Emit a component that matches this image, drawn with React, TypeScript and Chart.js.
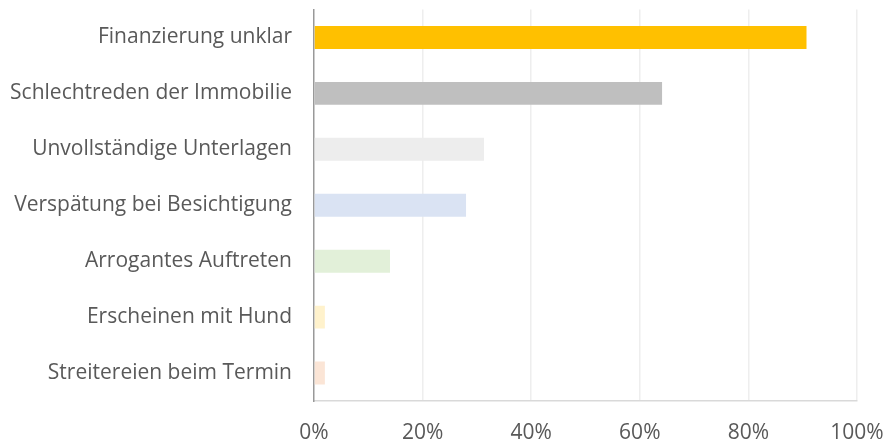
import React, { useEffect, useRef } from "react";
import { Chart, registerables } from "chart.js";

Chart.register(...registerables);

const categories = [
  "Finanzierung unklar",
  "Schlechtreden der Immobilie",
  "Unvollständige Unterlagen",
  "Verspätung bei Besichtigung",
  "Arrogantes Auftreten",
  "Erscheinen mit Hund",
  "Streitereien beim Termin",
];
const values = [90.7, 64.1, 31.3, 28.0, 14.0, 2.0, 2.0];
const barColors = ["#FFC000", "#BFBFBF", "#EDEDED", "#DAE3F3", "#E2F0D9", "#FFF2CC", "#FBE5D6"];
const xTicks = [0, 20, 40, 60, 80, 100];

export default function App() {
  const ref = useRef<HTMLCanvasElement | null>(null);
  useEffect(() => {
    if (!ref.current) return;
    const font = { family: "'Open Sans', 'Noto Sans', sans-serif", size: 21 };
    const chart = new Chart(ref.current, {
      type: "bar",
      data: {
        labels: categories,
        datasets: [
          {
            data: values,
            backgroundColor: barColors,
            borderWidth: 0,
            categoryPercentage: 1,
            barPercentage: 0.41,
          },
        ],
      },
      options: {
        indexAxis: "y",
        animation: false,
        responsive: false,
        maintainAspectRatio: false,
        layout: { padding: { top: 9.5, right: 28, bottom: 0, left: 0 } },
        plugins: { legend: { display: false }, tooltip: { enabled: false } },
        scales: {
          x: {
            min: 0,
            max: 100,
            afterBuildTicks: (s: any) => {
              s.ticks = xTicks.map((v) => ({ value: v }));
            },
            ticks: {
              color: "#595959",
              font,
              padding: 19,
              maxRotation: 0,
              callback: (v: any) => v + "%",
            },
            grid: {
              color: (ctx: any) => (ctx.tick && ctx.tick.value === 0 ? "rgba(0,0,0,0)" : "#EEEEEE"),
              lineWidth: 1.5,
              drawTicks: false,
            },
            border: { color: "#D9D9D9", width: 1.5 },
            afterFit: (s: any) => {
              s.height = 40;
              s.paddingLeft = 0;
              s.paddingRight = 0;
            },
          },
          y: {
            ticks: { color: "#595959", font, padding: 22 },
            grid: { display: false, drawTicks: false },
            border: { color: "#999999", width: 1.5 },
            afterFit: (s: any) => {
              s.width = 314;
              s.paddingTop = 0;
              s.paddingBottom = 0;
            },
          },
        },
      },
    });
    return () => chart.destroy();
  }, []);
  return (
    <div style={{ position: "fixed", left: 0, top: 0, width: 885, height: 441, background: "#fff" }}>
      <canvas ref={ref} width={885} height={441} style={{ display: "block", width: 885, height: 441 }} />
    </div>
  );
}
